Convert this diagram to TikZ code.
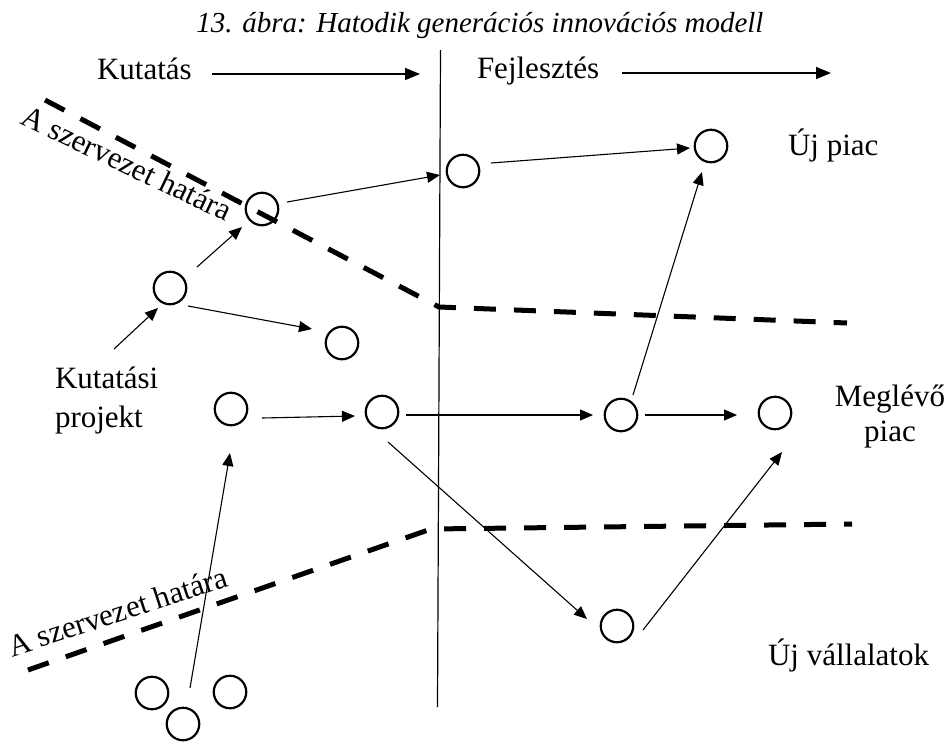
\documentclass[tikz,border=0pt]{standalone}
\usepackage{fontspec}
\setmainfont{Liberation Serif}
\usetikzlibrary{arrows.meta}
\begin{document}
\begin{tikzpicture}[x=1pt,y=-1pt,
  every node/.style={inner sep=0pt, outer sep=0pt},
  txt/.style={font=\fontsize{31}{32}\selectfont},
  dot/.style={circle, draw, line width=2.2pt, minimum size=32.5pt},
  flow/.style={line width=1.1pt, -{Triangle[length=13pt,width=11pt]}},
  phase/.style={line width=1.6pt, -{Triangle[length=15pt,width=12pt]}},
  orgline/.style={line width=5pt, dash pattern=on 22pt off 18pt},
]
\useasboundingbox (0,0) rectangle (950,742);

% title
\node[font=\fontsize{29}{34}\selectfont\itshape, anchor=base] (title) at (480,32)
  {13. ábra: Hatodik generációs innovációs modell};

% phases
\node[txt, anchor=base west] (kut) at (97,79) {Kutatás};
\coordinate (kutEnd) at (420,74);
\draw[phase] ([shift={(20,-5)}]kut.base east) -- (kutEnd);
\node[txt, anchor=base west] (fej) at (477,78) {Fejlesztés};
\coordinate (fejEnd) at (831,73);
\draw[phase] ([shift={(23,-5)}]fej.base east) -- (fejEnd);

% divider between research and development
\coordinate (divTop) at (440.5,50);
\coordinate (divBot) at (437.5,707);
\draw[line width=1.2pt] (divTop) -- (divBot);

% organisational boundaries
\draw[orgline] (45,100) -- (439,307) -- (847,323);
\draw[orgline] (28,670) -- (431,529) -- (852,524);
\node[txt, rotate=-25.6, anchor=base west] (orgTop) at (19,123) {A szervezet határa};
\node[txt, rotate=18, anchor=base west] (orgBot) at (12,657) {A szervezet határa};

% projects
\node[dot] (c1) at (262,209) {};
\node[dot] (c2) at (170,288) {};
\node[dot] (c3) at (342,343) {};
\node[dot] (c4) at (463,171) {};
\node[dot] (c5) at (711,146) {};
\node[dot] (c6) at (231,409) {};
\node[dot] (c7) at (382,412) {};
\node[dot] (c8) at (621,415) {};
\node[dot] (c9) at (775,413) {};
\node[dot] (c10) at (617,626) {};
\node[dot] (c11) at (152,693) {};
\node[dot] (c12) at (183,724) {};
\node[dot] (c13) at (230,692) {};

% labels
\node[font=\fontsize{31}{39}\selectfont, anchor=north west, align=left] (kp) at (55,367)
  {Kutatási\\projekt};
\node[txt, anchor=base west] (ujpiac) at (788,155) {Új piac};
\node[font=\fontsize{31}{35}\selectfont, anchor=north, align=center] (meglevo) at (890,385)
  {Meglévő\\piac};
\node[txt, anchor=base west] (ujvall) at (768,665) {Új vállalatok};

% flows
\coordinate (kpTail) at (114,349);
\draw[flow] (kpTail) -- ([shift={(-12,20)}]c2.center);
\draw[flow] ([shift={(27,-21)}]c2.center) -- ([shift={(-20,18)}]c1.center);
\draw[flow] ([shift={(18,18)}]c2.center) -- ([shift={(-30,-14)}]c3.center);
\draw[flow] ([shift={(25,-7)}]c1.center) -- ([shift={(-23,4)}]c4.center);
\draw[flow] ([shift={(28,-8)}]c4.center) -- ([shift={(-21,2)}]c5.center);
\draw[flow] ([shift={(31,9)}]c6.center) -- ([shift={(-27,4)}]c7.center);
\draw[flow] ([shift={(24,3)}]c7.center) -- ([shift={(-28,0)}]c8.center);
\draw[flow] ([shift={(24,0)}]c8.center) -- ([shift={(-38,2)}]c9.center);
\draw[flow] ([shift={(6,30)}]c7.center) -- ([shift={(-30,-7)}]c10.center);
\draw[flow] ([shift={(12,-20)}]c8.center) -- ([shift={(-9,26)}]c5.center);
\draw[flow] ([shift={(26,4)}]c10.center) -- ([shift={(7,39)}]c9.center);
\draw[flow] ([shift={(7,-36)}]c12.center) -- ([shift={(-1,44)}]c6.center);
\end{tikzpicture}
\end{document}
